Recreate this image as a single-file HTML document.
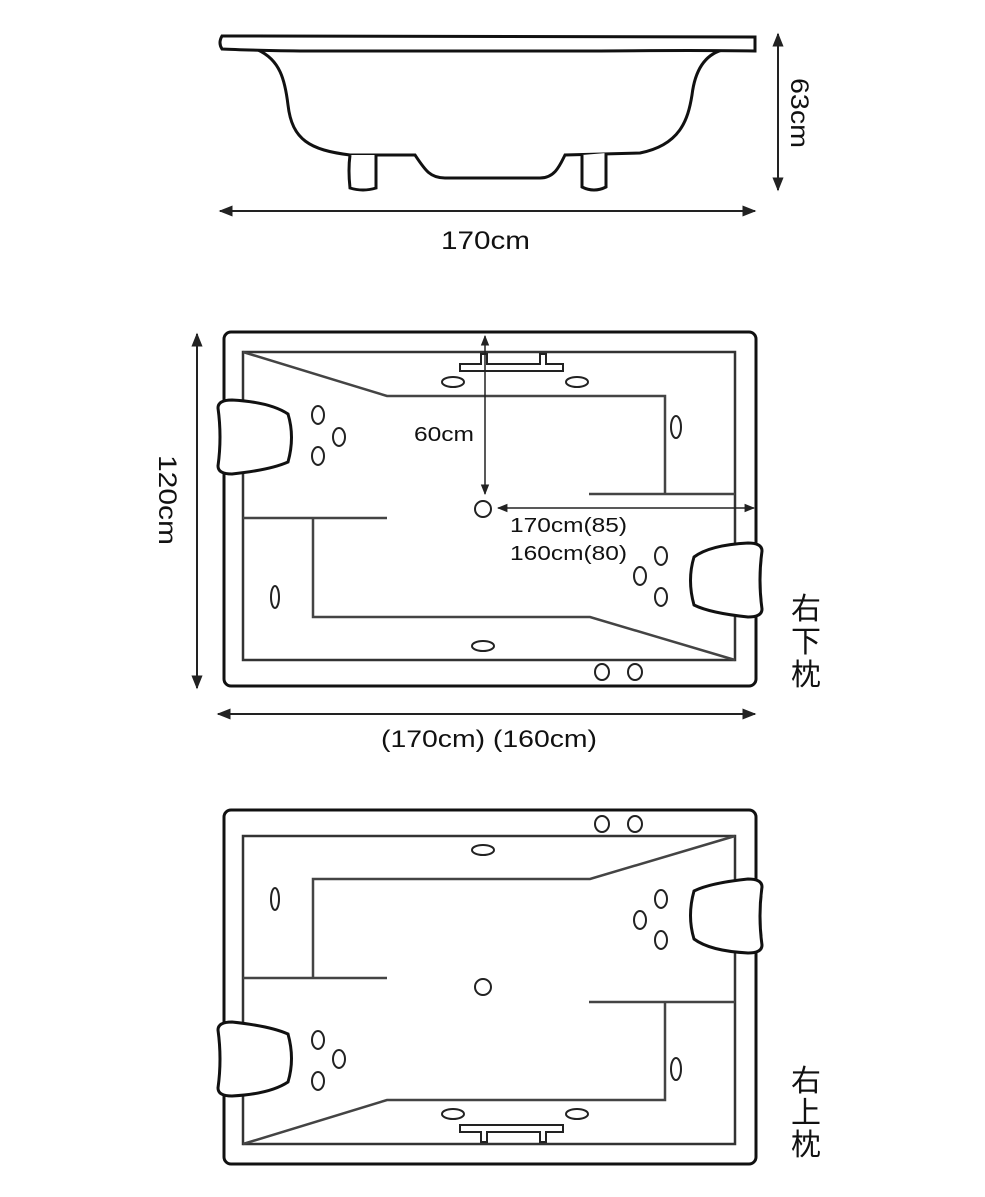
<!DOCTYPE html>
<html><head><meta charset="utf-8"><style>
html,body{margin:0;padding:0;background:#fff;}
svg{display:block;}
text{font-family:"Liberation Sans","Noto Sans CJK SC",sans-serif;fill:#111;}
</style></head><body>
<svg width="985" height="1197" viewBox="0 0 985 1197" xmlns="http://www.w3.org/2000/svg">
<defs>
<marker id="ah" viewBox="0 0 10 10" refX="9" refY="5" markerWidth="7" markerHeight="7" orient="auto-start-reverse"><path d="M0,1 L10,5 L0,9 z" fill="#222"/></marker>
<g id="plan">
  <rect x="224" y="332" width="532" height="354" rx="7" fill="none" stroke="#111" stroke-width="3"/>
  <rect x="243" y="352" width="492" height="308" fill="none" stroke="#333" stroke-width="2.5"/>
  <g fill="none" stroke="#444" stroke-width="2.5">
    <polyline points="243,352 387,396 665,396 665,494"/>
    <line x1="589" y1="494" x2="735" y2="494"/>
    <line x1="243" y1="518" x2="387" y2="518"/>
    <polyline points="313,518 313,617 590,617 735,660"/>
  </g>
  <path d="M460,371 L460,364 L481,364 L481,354 L487,354 L487,364 L540,364 L540,354 L546,354 L546,364 L563,364 L563,371 Z" fill="#fff" stroke="#222" stroke-width="2"/>
  <path d="M218,408 Q218,400 232,400 Q270,402 288,414 Q295,437 288,462 Q270,470 232,474 Q218,474 218,466 Q222,437 218,408 Z" fill="#fff" stroke="#111" stroke-width="3"/>
  <path d="M762,551 Q762,543 748,543 Q710,545 694,557 Q687,580 694,605 Q710,613 748,617 Q762,617 762,609 Q758,580 762,551 Z" fill="#fff" stroke="#111" stroke-width="3"/>
  <g fill="none" stroke="#222" stroke-width="2">
    <ellipse cx="318" cy="415" rx="6" ry="9"/><ellipse cx="339" cy="437" rx="6" ry="9"/><ellipse cx="318" cy="456" rx="6" ry="9"/>
    <ellipse cx="661" cy="556" rx="6" ry="9"/><ellipse cx="640" cy="576" rx="6" ry="9"/><ellipse cx="661" cy="597" rx="6" ry="9"/>
    <ellipse cx="676" cy="427" rx="5" ry="11"/><ellipse cx="275" cy="597" rx="4" ry="11"/>
    <ellipse cx="453" cy="382" rx="11" ry="5"/><ellipse cx="577" cy="382" rx="11" ry="5"/><ellipse cx="483" cy="646" rx="11" ry="5"/>
    <ellipse cx="602" cy="672" rx="7" ry="8"/><ellipse cx="635" cy="672" rx="7" ry="8"/>
    <circle cx="483" cy="509" r="8"/>
  </g>
</g>
</defs>

<!-- side view -->
<g fill="#fff" stroke="#111" stroke-width="3">
  <path d="M258,50 C280,60 285,80 288,105 C292,140 310,150 350,155 L415,155 C425,170 430,178 445,178 L540,178 C555,178 560,165 565,155 L640,153 C680,145 688,120 692,95 C695,70 705,55 722,50 Z"/>
  <path d="M350,155 Q348,170 350,188 Q363,192 376,188 L376,155" />
  <path d="M582,155 L582,187 Q594,193 606,187 L606,153"/>
  <path d="M222,36 L755,37 L755,51 Q700,50 600,51 L300,51 Q240,50 222,49 Q218,43 222,36 Z"/>
</g>
<line x1="220" y1="211" x2="755" y2="211" stroke="#222" stroke-width="2" marker-start="url(#ah)" marker-end="url(#ah)"/>
<text x="441" y="249" font-size="25" textLength="89" lengthAdjust="spacingAndGlyphs">170cm</text>
<line x1="778" y1="34" x2="778" y2="190" stroke="#222" stroke-width="2" marker-start="url(#ah)" marker-end="url(#ah)"/>
<text transform="translate(791,78) rotate(90)" font-size="25" textLength="70" lengthAdjust="spacingAndGlyphs">63cm</text>

<!-- middle plan -->
<use href="#plan"/>
<line x1="485" y1="336" x2="485" y2="494" stroke="#222" stroke-width="1.5" marker-start="url(#ah)" marker-end="url(#ah)"/>
<line x1="498" y1="508" x2="754" y2="508" stroke="#222" stroke-width="1.5" marker-start="url(#ah)" marker-end="url(#ah)"/>
<text x="414" y="441" font-size="20" textLength="60" lengthAdjust="spacingAndGlyphs">60cm</text>
<text x="510" y="532" font-size="20" textLength="117" lengthAdjust="spacingAndGlyphs">170cm(85)</text>
<text x="510" y="560" font-size="20" textLength="117" lengthAdjust="spacingAndGlyphs">160cm(80)</text>
<line x1="197" y1="334" x2="197" y2="688" stroke="#222" stroke-width="2" marker-start="url(#ah)" marker-end="url(#ah)"/>
<text transform="translate(159,455) rotate(90)" font-size="25" textLength="90" lengthAdjust="spacingAndGlyphs">120cm</text>
<line x1="218" y1="714" x2="755" y2="714" stroke="#222" stroke-width="2" marker-start="url(#ah)" marker-end="url(#ah)"/>
<text x="381" y="747" font-size="24" textLength="216" lengthAdjust="spacingAndGlyphs">(170cm) (160cm)</text>
<text x="806" y="619" font-size="30" text-anchor="middle">右</text>
<text x="806" y="652" font-size="30" text-anchor="middle">下</text>
<text x="806" y="685" font-size="30" text-anchor="middle">枕</text>

<!-- bottom plan (vertical mirror) -->
<use href="#plan" transform="matrix(1,0,0,-1,0,1496)"/>
<text x="806" y="1091" font-size="30" text-anchor="middle">右</text>
<text x="806" y="1123" font-size="30" text-anchor="middle">上</text>
<text x="806" y="1155" font-size="30" text-anchor="middle">枕</text>
</svg>
</body></html>
